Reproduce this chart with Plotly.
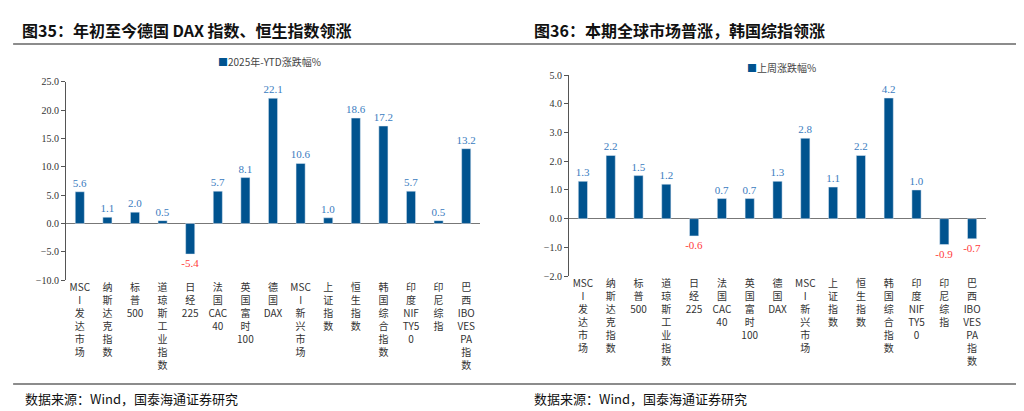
import re
import plotly.graph_objects as go

categories = ["MSCI发达市场","纳斯达克指数","标普500","道琼斯工业指数","日经225","法国CAC40","英国富时100",
              "德国DAX","MSCI新兴市场","上证指数","恒生指数","韩国综合指数","印度NIFTY50","印尼综指","巴西IBOVESPA指数"]
ytd = [5.6,1.1,2.0,0.5,-5.4,5.7,8.1,22.1,10.6,1.0,18.6,17.2,5.7,0.5,13.2]
cats2 = ["MSCI发达市场","纳斯达克指数","标普500","道琼斯工业指数","日经225","法国CAC40","英国富时100",
         "德国DAX","MSCI新兴市场","上证指数","恒生指数","韩国综合指数","印度NIFTY50","印尼综指","巴西IBOVESPA指数"]
week = [1.3,2.2,1.5,1.2,-0.6,0.7,0.7,1.3,2.8,1.1,2.2,4.2,1.0,-0.9,-0.7]

BAR = "#00538F"
POS = "#3A7CC0"
NEG = "#FF3B3B"
SERIF = "Liberation Serif, Noto Sans CJK SC"

def vert(s):
    parts = re.findall(r"[A-Za-z0-9]+|.", s)
    lines = []
    for p in parts:
        if re.match(r"[A-Za-z0-9]", p):
            lines += [p[i:i+3] for i in range(0, len(p), 3)]
        else:
            lines.append(p)
    return "<br>".join(lines)

fig = go.Figure()
for vals, cats, xa, ya, name in [(ytd, categories, "x", "y", "2025年-YTD涨跌幅%"),
                                 (week, cats2, "x2", "y2", "上周涨跌幅%")]:
    fig.add_trace(go.Bar(
        x=list(range(len(cats))), y=vals, xaxis=xa, yaxis=ya, marker_color=BAR, width=0.33,
        text=[f"{v:.1f}" for v in vals], textposition="outside", cliponaxis=False,
        constraintext="none",
        textfont=dict(color=[NEG if v < 0 else POS for v in vals], size=11, family=SERIF),
        showlegend=False, name=name))

def xax(dom, cats):
    return dict(domain=dom, tickvals=list(range(len(cats))), ticktext=[vert(c) for c in cats],
                tickangle=0, showgrid=False, showline=False, ticks="",
                tickfont=dict(size=10, family="Noto Sans CJK SC", color="#333"),
                range=[-0.5, len(cats) - 0.5], fixedrange=True)

def yax(dom, rng, dt, anchor):
    return dict(domain=dom, range=rng, dtick=dt, tickformat=".1f", showgrid=False,
                showline=True, linecolor="#555", ticks="outside", ticklen=4, tickcolor="#555",
                zeroline=True, zerolinecolor="#777", zerolinewidth=1, anchor=anchor,
                tickfont=dict(size=10, family=SERIF, color="#333"))

fig.update_layout(
    width=1024, height=411, margin=dict(l=0, r=0, t=0, b=0),
    paper_bgcolor="white", plot_bgcolor="white", bargap=0.5,
    xaxis=xax([58/1024, 472/1024], categories),
    yaxis=yax([0.333, 0.830], [-10, 25], 5, "x"),
    xaxis2=xax([561/1024, 978/1024], cats2),
    yaxis2=yax([0.343, 0.847], [-2, 5], 1, "x2"),
)
fig.update_layout(xaxis=dict(anchor="y"), xaxis2=dict(anchor="y2"))

ann = [
    dict(x=0.012, y=16, text="<b>图35：年初至今德国 DAX 指数、恒生指数领涨</b>", font=dict(size=16, color="#111", family="Noto Sans CJK SC")),
    dict(x=0.512, y=16, text="<b>图36：本期全球市场普涨，韩国综指领涨</b>", font=dict(size=16, color="#111", family="Noto Sans CJK SC")),
    dict(x=0.015, y=396, text="数据来源：Wind，国泰海通证券研究", font=dict(size=13, color="#111", family="Noto Sans CJK SC")),
    dict(x=0.512, y=396, text="数据来源：Wind，国泰海通证券研究", font=dict(size=13, color="#111", family="Noto Sans CJK SC")),
    dict(x=0.203, y=49, text="<span style='color:#00538F'>■</span>2025年-YTD涨跌幅%", font=dict(size=10, color="#444", family="Noto Sans CJK SC")),
    dict(x=0.72, y=55, text="<span style='color:#00538F'>■</span>上周涨跌幅%", font=dict(size=10, color="#444", family="Noto Sans CJK SC")),
]
for a in ann:
    fig.add_annotation(xref="paper", yref="paper", x=a["x"], y=1 - a["y"] / 411, text=a["text"],
                       showarrow=False, xanchor="left", yanchor="middle", font=a["font"])

for x0, x1 in [(0.005, 0.5), (0.5, 0.995)]:
    for yy in [31, 381]:
        fig.add_shape(type="line", xref="paper", yref="paper", x0=x0, x1=x1,
                      y0=1 - yy / 411, y1=1 - yy / 411, line=dict(color="#666", width=1.5))

fig.write_html("out.html")
